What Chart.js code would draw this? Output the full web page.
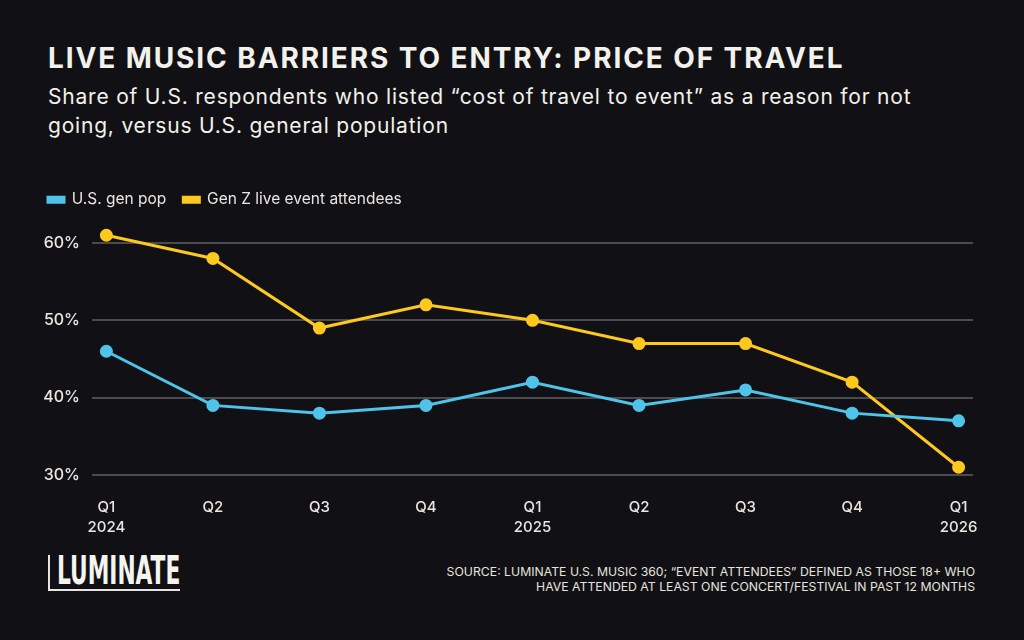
<!DOCTYPE html>
<html>
<head>
<meta charset="utf-8">
<script src="https://cdn.jsdelivr.net/npm/chart.js@4.4.1/dist/chart.umd.min.js"></script>
<style>
  html, body { margin: 0; padding: 0; background: #111115; }
  body { width: 1024px; height: 640px; position: relative; overflow: hidden; font-family: Inter, "Noto Sans", sans-serif; color: #f3f1eb; }
  #title { position: absolute; left: 48px; top: 41px; font-size: 28px; font-weight: 700; letter-spacing: 1.9px; white-space: nowrap; }
  #subtitle { position: absolute; left: 48px; top: 82px; font-size: 21px; line-height: 29px; letter-spacing: 0.8px; width: 885px; }
  #wrap { position: absolute; left: 0; top: 175px; width: 1024px; height: 370px; }
  #logo { position: absolute; left: 48px; top: 555px; width: 130px; height: 34px; border-left: 2px solid #e8e6e0; border-bottom: 2px solid #e8e6e0; overflow: visible; }
  #logo span { position: absolute; left: 7px; top: -4px; transform: scaleX(0.62); transform-origin: left top; white-space: nowrap;
          font-family: "Liberation Sans Narrow", "DejaVu Sans Condensed", sans-serif; font-weight: 700; font-size: 39px; line-height: 39px; color: #f6f4ee; }
  #source { position: absolute; right: 49px; top: 564px; font-size: 12.25px; line-height: 15px; text-align: right; color: #e6e4de; }
</style>
</head>
<body>
<div id="title">LIVE MUSIC BARRIERS TO ENTRY: PRICE OF TRAVEL</div>
<div id="subtitle">Share of U.S. respondents who listed “cost of travel to event” as a reason for not going, versus U.S. general population</div>
<div id="wrap"><canvas id="chart"></canvas></div>
<div id="logo"><span>LUMINATE</span></div>
<div id="source">SOURCE: LUMINATE U.S. MUSIC 360; “EVENT ATTENDEES” DEFINED AS THOSE 18+ WHO<br>HAVE ATTENDED AT LEAST ONE CONCERT/FESTIVAL IN PAST 12 MONTHS</div>

<script>
const quarters = ['Q1', 'Q2', 'Q3', 'Q4', 'Q1', 'Q2', 'Q3', 'Q4', 'Q1'];
const years = ['2024', '', '', '', '2025', '', '', '', '2026'];
const genPop = [46, 39, 38, 39, 42, 39, 41, 38, 37];
const genZ = [61, 58, 49, 52, 50, 47, 47, 42, 31];
const yTicks = [30, 40, 50, 60];

const toPoints = arr => arr.map((v, i) => ({ x: i, y: v }));
const textColor = '#e8e6e0';

// fixed legend block height so the plot area lands where it should
const legendHeight = {
  id: 'legendHeight',
  beforeInit(chart) {
    const fit = chart.legend.fit;
    chart.legend.fit = function () {
      fit.bind(chart.legend)();
      this.height = 68;
    };
  }
};

new Chart(document.getElementById('chart'), {
  type: 'line',
  data: {
    datasets: [
      {
        label: 'U.S. gen pop',
        data: toPoints(genPop),
        borderColor: '#4fc4ea',
        backgroundColor: '#4fc4ea',
        borderWidth: 3,
        pointRadius: 5,
        pointHoverRadius: 5,
        clip: false
      },
      {
        label: 'Gen Z live event attendees',
        data: toPoints(genZ),
        borderColor: '#ffc81e',
        backgroundColor: '#ffc81e',
        borderWidth: 3,
        pointRadius: 5,
        pointHoverRadius: 5,
        clip: false
      }
    ]
  },
  options: {
    responsive: true,
    maintainAspectRatio: false,
    animation: false,
    layout: { padding: { left: 31, right: 51, top: 0, bottom: 0 } },
    plugins: {
      tooltip: { enabled: false },
      legend: {
        align: 'start',
        labels: {
          color: textColor,
          font: { family: 'Inter', size: 15.5 },
          boxWidth: 16,
          boxHeight: 5,
          padding: 17
        }
      }
    },
    scales: {
      x: {
        type: 'linear',
        min: -0.135,
        max: quarters.length - 1 + 0.135,
        grid: { display: false },
        border: { display: false },
        afterFit(scale) { scale.height = 70; },
        ticks: {
          stepSize: 1,
          includeBounds: false,
          autoSkip: false,
          maxRotation: 0,
          padding: 14,
          color: textColor,
          font: { family: 'Inter', size: 15, weight: '500', lineHeight: 1.333 },
          callback(v) {
            if (!Number.isInteger(v)) return '';
            return years[v] ? [quarters[v], years[v]] : quarters[v];
          }
        }
      },
      y: {
        min: 30,
        max: 60,
        afterFit(scale) { scale.width = 61; },
        afterBuildTicks(scale) { scale.ticks = yTicks.map(v => ({ value: v })); },
        grid: { color: '#4a4a50', lineWidth: 2, drawTicks: false },
        border: { display: false },
        ticks: {
          padding: 12,
          color: textColor,
          font: { family: 'Inter', size: 16, weight: '500' },
          callback: v => v + '%'
        }
      }
    }
  },
  plugins: [legendHeight]
});
</script>
</body>
</html>
